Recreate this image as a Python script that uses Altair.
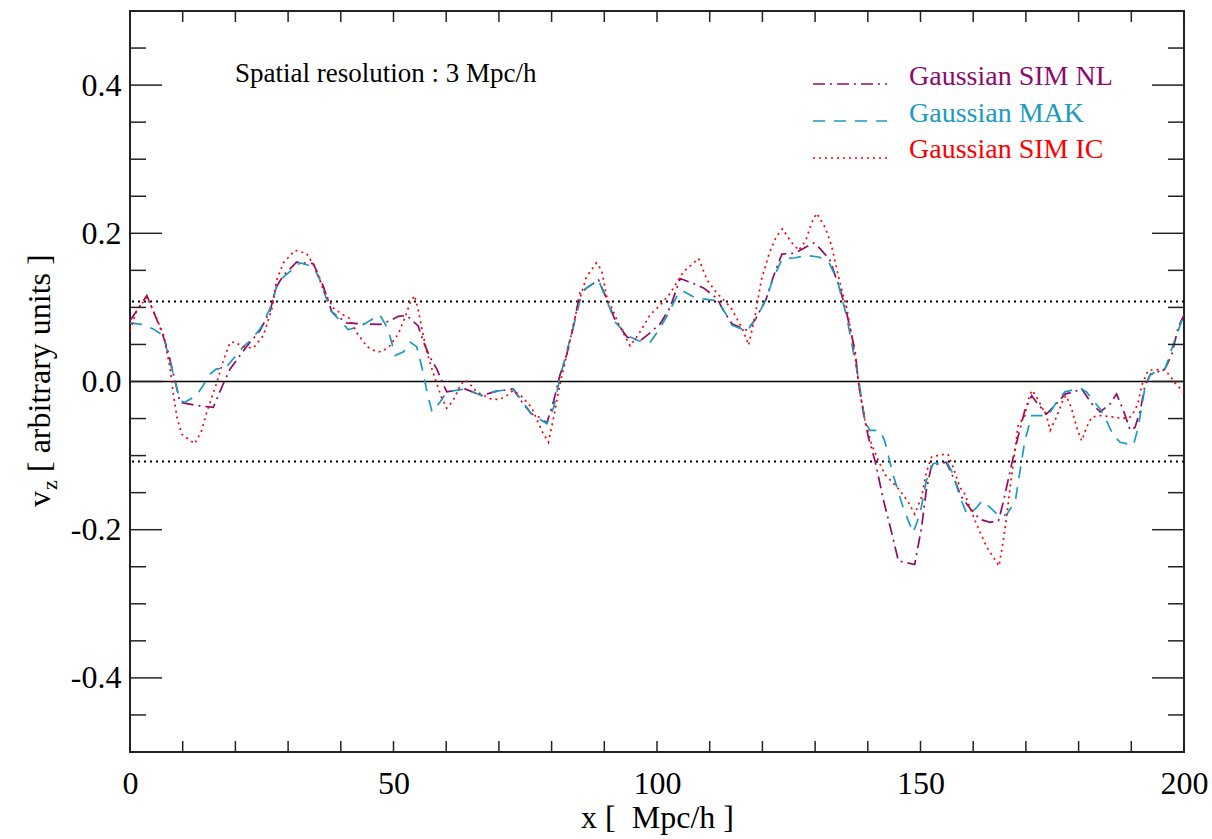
import altair as alt
import pandas as pd

# ---------------- data ----------------
nl_x = [0, 3.2, 5.7, 7.0, 8.5, 9.5, 12.3, 15.8, 17.7, 19.0, 22.1, 24.7, 26.6, 27.8, 29.1, 31.6, 34.8, 36.7, 38.3,
        41.1, 43.6, 47.4, 49.3, 50.9, 52.5, 54.7, 55.6, 56.9, 58.2, 59.4, 60.1, 63.6, 66.7, 69.6, 72.7, 74.6, 76.2,
        77.2, 79.1, 80.4, 81.6, 82.9, 84.1, 85.4, 86.6, 88.9, 90.2, 92.1, 94.3, 96.8, 98.4, 100.6, 102.5, 104.4,
        107.0, 108.9, 111.4, 112.6, 114.2, 117.1, 118.6, 120.7, 122.0, 123.7, 125.9, 126.9, 129.7, 131.0, 132.8,
        134.8, 136.0, 137.6, 138.2, 139.1, 140.1, 141.4, 143.0, 144.6, 145.8, 147.0, 148.9, 150.2, 151.1, 152.1,
        154.9, 156.2, 157.8, 159.7, 161.3, 163.2, 164.8, 165.7, 166.6, 167.6, 168.5, 169.8, 171.1, 172.0, 173.9,
        175.8, 177.4, 179.0, 180.6, 182.5, 184.1, 186.0, 187.2, 188.5, 189.8, 190.7, 191.7, 192.6, 193.6, 196.4,
        197.7, 198.9, 200.0]
nl_v = [0.082, 0.116, 0.073, 0.047, 0.002, -0.028, -0.032, -0.035, -0.003, 0.017, 0.047, 0.069, 0.096, 0.128, 0.143,
        0.161, 0.159, 0.128, 0.094, 0.079, 0.078, 0.077, 0.082, 0.088, 0.089, 0.075, 0.055, 0.033, 0.017, -0.003,
        -0.014, -0.010, -0.019, -0.013, -0.010, -0.030, -0.044, -0.046, -0.056, -0.026, 0.009, 0.037, 0.073, 0.120,
        0.126, 0.137, 0.116, 0.082, 0.060, 0.055, 0.064, 0.078, 0.100, 0.139, 0.132, 0.126, 0.112, 0.096, 0.078,
        0.069, 0.083, 0.111, 0.140, 0.172, 0.173, 0.176, 0.187, 0.179, 0.164, 0.123, 0.092, 0.041, 0.000, -0.040,
        -0.075, -0.108, -0.161, -0.206, -0.242, -0.244, -0.247, -0.197, -0.147, -0.113, -0.109, -0.129, -0.156,
        -0.174, -0.186, -0.190, -0.188, -0.163, -0.134, -0.102, -0.075, -0.039, -0.019, -0.028, -0.044, -0.030,
        -0.017, -0.014, -0.010, -0.030, -0.041, -0.030, -0.017, -0.039, -0.066, -0.062, -0.039, -0.005, 0.009,
        0.017, 0.037, 0.073, 0.090]

mak_x = [0, 2.2, 4.4, 6.3, 8.5, 9.5, 10.4, 12.6, 13.9, 15.2, 16.4, 18.0, 21.5, 22.8, 24.7, 26.6, 27.8, 29.1, 32.3,
         34.8, 36.1, 38.0, 39.9, 41.4, 43.6, 46.2, 47.4, 48.4, 49.3, 50.3, 51.9, 53.2, 54.4, 55.4, 56.3, 57.3, 58.8,
         60.1, 63.6, 66.7, 69.6, 72.7, 74.6, 76.2, 79.1, 80.4, 81.6, 84.1, 85.7, 86.6, 88.9, 90.2, 92.1, 94.6, 96.5,
         98.7, 100.0, 101.8, 103.7, 104.7, 107.0, 108.2, 111.4, 113.0, 114.2, 117.1, 119.2, 120.7, 122.0, 123.7,
         126.2, 128.4, 130.7, 132.6, 134.2, 136.0, 138.2, 139.5, 140.4, 142.3, 143.2, 144.8, 146.7, 148.6, 149.9,
         151.1, 152.4, 154.9, 156.2, 157.5, 158.8, 160.4, 161.7, 163.2, 165.1, 166.4, 168.0, 168.9, 169.8, 171.1,
         174.2, 175.8, 177.4, 180.3, 181.5, 182.8, 184.1, 185.3, 186.6, 187.9, 190.4, 191.3, 192.6, 193.6, 196.4,
         198.0, 200.0]
mak_v = [0.079, 0.077, 0.071, 0.062, 0.002, -0.026, -0.028, -0.019, -0.005, 0.010, 0.017, 0.017, 0.047, 0.055,
         0.071, 0.099, 0.128, 0.141, 0.160, 0.155, 0.136, 0.096, 0.082, 0.070, 0.074, 0.085, 0.090, 0.078, 0.062,
         0.035, 0.040, 0.053, 0.047, 0.019, -0.012, -0.041, -0.028, -0.014, -0.010, -0.019, -0.013, -0.010, -0.028,
         -0.044, -0.057, -0.035, 0.006, 0.073, 0.118, 0.126, 0.137, 0.114, 0.080, 0.061, 0.055, 0.053, 0.066, 0.087,
         0.114, 0.123, 0.114, 0.112, 0.109, 0.092, 0.076, 0.068, 0.090, 0.111, 0.138, 0.165, 0.167, 0.170, 0.168,
         0.161, 0.137, 0.087, 0.005, -0.054, -0.066, -0.066, -0.080, -0.126, -0.170, -0.204, -0.179, -0.134,
         -0.111, -0.107, -0.125, -0.156, -0.179, -0.172, -0.161, -0.170, -0.183, -0.179, -0.161, -0.120, -0.080,
         -0.046, -0.046, -0.028, -0.014, -0.009, -0.014, -0.026, -0.037, -0.053, -0.073, -0.082, -0.086, -0.062,
         -0.008, 0.010, 0.017, 0.051, 0.090]

ic_x = [0, 1.3, 3.2, 4.4, 6.3, 7.6, 8.2, 8.9, 9.8, 12.3, 13.6, 14.5, 16.4, 17.7, 19.0, 19.9, 21.5, 23.4, 25.3, 27.0,
        27.8, 29.1, 31.3, 33.5, 35.4, 36.7, 38.6, 40.0, 41.7, 43.0, 45.0, 46.5, 47.7, 49.3, 50.9, 52.2, 53.2, 54.0,
        54.7, 55.4, 56.3, 57.3, 58.2, 59.1, 60.1, 61.3, 62.7, 63.6, 64.8, 65.8, 68.6, 70.2, 71.5, 72.7, 74.3, 76.2,
        78.1, 79.4, 80.4, 81.6, 82.9, 84.8, 86.6, 88.5, 89.5, 90.4, 92.7, 94.9, 96.8, 98.7, 100.6, 102.5, 105.0,
        107.9, 109.5, 111.4, 114.0, 116.2, 117.4, 118.7, 119.8, 121.3, 122.6, 123.8, 125.5, 126.9, 128.2, 129.4,
        130.3, 131.9, 133.1, 134.0, 134.9, 136.0, 137.0, 137.9, 138.5, 139.5, 140.7, 141.7, 143.3, 144.8, 146.1,
        147.7, 148.9, 150.2, 151.1, 152.1, 153.7, 155.2, 156.2, 157.5, 158.4, 160.6, 162.6, 164.1, 164.9, 165.7,
        166.4, 167.0, 167.6, 168.0, 168.5, 169.8, 170.4, 171.1, 171.7, 172.7, 173.9, 174.6, 175.8, 177.0, 177.6,
        178.6, 179.8, 180.6, 181.5, 182.5, 184.1, 186.6, 188.2, 189.8, 190.7, 191.3, 192.0, 193.2, 194.8, 196.4,
        197.3, 198.3, 200.0]
ic_v = [0.069, 0.096, 0.114, 0.096, 0.064, 0.019, -0.016, -0.048, -0.071, -0.084, -0.066, -0.043, -0.003, 0.028,
        0.053, 0.053, 0.047, 0.045, 0.062, 0.100, 0.136, 0.160, 0.177, 0.173, 0.150, 0.123, 0.099, 0.092, 0.085,
        0.066, 0.047, 0.041, 0.040, 0.048, 0.064, 0.087, 0.107, 0.116, 0.096, 0.071, 0.040, 0.017, -0.003, -0.021,
        -0.036, -0.026, -0.005, 0.002, -0.006, -0.014, -0.024, -0.024, -0.019, -0.012, -0.020, -0.035, -0.066,
        -0.082, -0.048, -0.003, 0.037, 0.098, 0.141, 0.160, 0.150, 0.116, 0.078, 0.048, 0.067, 0.090, 0.103, 0.119,
        0.148, 0.166, 0.137, 0.119, 0.100, 0.071, 0.049, 0.092, 0.137, 0.173, 0.195, 0.206, 0.188, 0.177, 0.190,
        0.215, 0.227, 0.208, 0.184, 0.155, 0.128, 0.099, 0.060, 0.018, -0.014, -0.054, -0.084, -0.102, -0.126,
        -0.137, -0.147, -0.163, -0.179, -0.156, -0.123, -0.102, -0.099, -0.098, -0.116, -0.143, -0.152, -0.192,
        -0.224, -0.240, -0.249, -0.215, -0.179, -0.143, -0.111, -0.089, -0.060, -0.046, -0.026, -0.012, -0.017,
        -0.030, -0.046, -0.066, -0.048, -0.026, -0.019, -0.035, -0.066, -0.080, -0.062, -0.048, -0.046, -0.048,
        -0.050, -0.048, -0.039, -0.028, -0.005, 0.015, 0.016, 0.015, 0.008, -0.002, -0.015]

series_names = ["Gaussian SIM NL", "Gaussian MAK", "Gaussian SIM IC"]
threshold_levels = [0.108, -0.108]
x_tick_values = list(range(0, 201, 10))
x_label_values = [0, 50, 100, 150, 200]
y_major_values = [-0.4, -0.2, 0.0, 0.2, 0.4]
y_minor_values = [-0.45, -0.35, -0.3, -0.25, -0.15, -0.1, -0.05, 0.05, 0.1, 0.15, 0.25, 0.3, 0.35, 0.45]

# ---------------- styling ----------------
W, H = 1054, 741
FONT = "Liberation Serif"
colors = ["#8E0B6C", "#1A9BBF", "#FF0000"]
dashes = [[12, 5, 2, 5], [12, 9], [2, 4]]
legend_line_y = [73, 110, 147]
legend_text_y = [74, 111, 147]

xs = alt.Scale(domain=[0, 200], nice=False, zero=False)
ys = alt.Scale(domain=[-0.5, 0.5], nice=False, zero=False)

x_axis = alt.Axis(values=x_label_values, format="d", title="x [\u00a0 Mpc/h ]",
                  labelFont=FONT, labelFontSize=32, labelColor="black", labelFlush=False,
                  labelPadding=16, ticks=False, tickSize=0, domain=False,
                  grid=False, titleFont=FONT, titleFontSize=32,
                  titleFontWeight="normal", titleColor="black", titlePadding=3)
y_axis = alt.Axis(values=y_major_values, title="",
                  labelExpr="replace(format(datum.value, '.1f'), '\u2212', '-')",
                  labelFont=FONT, labelFontSize=32, labelColor="black", labelFlush=False,
                  labelPadding=9, ticks=False, tickSize=0, domain=False, grid=False)


def X(field="x"):
    return alt.X(f"{field}:Q", scale=xs, axis=x_axis)


def Y(field="v"):
    return alt.Y(f"{field}:Q", scale=ys, axis=y_axis)


layers = []

# axes carrier
axis_df = pd.DataFrame({"x": [0, 200], "v": [-0.5, 0.5]})
layers.append(alt.Chart(axis_df).mark_point(opacity=0).encode(x=X(), y=Y()))

# horizontal reference lines
zero_df = pd.DataFrame({"v": [0.0]})
layers.append(alt.Chart(zero_df).mark_rule(color="black", strokeWidth=1.5).encode(y=Y()))
thr_df = pd.DataFrame({"v": threshold_levels})
layers.append(alt.Chart(thr_df).mark_rule(color="black", strokeWidth=2, strokeDash=[2, 4]).encode(y=Y()))

# data series
for xv, vv, name, col, dsh in [(nl_x, nl_v, series_names[0], colors[0], dashes[0]),
                               (mak_x, mak_v, series_names[1], colors[1], dashes[1]),
                               (ic_x, ic_v, series_names[2], colors[2], dashes[2])]:
    df = pd.DataFrame({"x": xv, "v": vv})
    layers.append(alt.Chart(df).mark_line(color=col, strokeWidth=1.7, strokeDash=dsh).encode(x=X(), y=Y()))

# legend
for i, (name, col, dsh) in enumerate(zip(series_names, colors, dashes)):
    ldf = pd.DataFrame({"n": [name]})
    layers.append(alt.Chart(ldf).mark_rule(color=col, strokeWidth=1.7, strokeDash=dsh).encode(
        x=alt.value(683), x2=alt.value(757), y=alt.value(legend_line_y[i])))
    layers.append(alt.Chart(ldf).mark_text(align="left", baseline="alphabetic", font=FONT, fontSize=28,
                                           color=col).encode(
        x=alt.value(779), y=alt.value(legend_text_y[i]), text="n:N"))

# annotation
ann = pd.DataFrame({"t": ["Spatial resolution : 3 Mpc/h"]})
layers.append(alt.Chart(ann).mark_text(align="left", baseline="alphabetic", font=FONT, fontSize=27,
                                       color="black").encode(
    x=alt.value(105), y=alt.value(71), text="t:N"))

# y title with subscript
yt = [("v", -80, 496, 32), ("z", -73, 479, 22), ("[ arbitrary units ]", -80, 461, 32)]
for t, px, py, fs in yt:
    tdf = pd.DataFrame({"t": [t]})
    layers.append(alt.Chart(tdf).mark_text(align="left", baseline="alphabetic", angle=270, font=FONT,
                                           fontSize=fs, color="black").encode(
        x=alt.value(px), y=alt.value(py), text="t:N"))

# inward ticks on four sides
tick_col = "#222222"
xt = pd.DataFrame({"x": x_tick_values})
layers.append(alt.Chart(xt).mark_rule(color=tick_col, strokeWidth=1.5).encode(
    x=X(), y=alt.value(H), y2=alt.value(H - 11)))
layers.append(alt.Chart(xt).mark_rule(color=tick_col, strokeWidth=1.5).encode(
    x=X(), y=alt.value(0), y2=alt.value(11)))
ymaj = pd.DataFrame({"v": y_major_values})
ymin = pd.DataFrame({"v": y_minor_values})
for d, L in [(ymaj, 32), (ymin, 16)]:
    layers.append(alt.Chart(d).mark_rule(color=tick_col, strokeWidth=1.5).encode(
        y=Y(), x=alt.value(0), x2=alt.value(L)))
    layers.append(alt.Chart(d).mark_rule(color=tick_col, strokeWidth=1.5).encode(
        y=Y(), x=alt.value(W - L), x2=alt.value(W)))

chart = alt.layer(*layers).properties(
    width=W, height=H,
    autosize=alt.AutoSizeParams(type="none"),
    padding={"left": 130, "top": 11, "right": 28, "bottom": 87},
).configure_view(stroke="#222222", strokeWidth=2)

chart.save("out.html", embed_options={"renderer": "svg", "actions": False})
